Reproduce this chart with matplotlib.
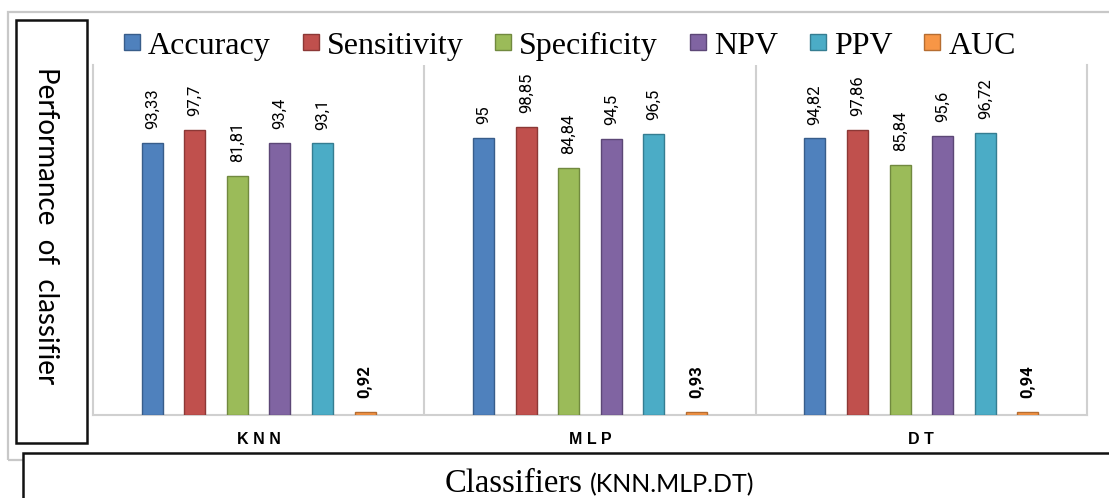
import matplotlib
matplotlib.use("Agg")
import matplotlib.pyplot as plt
from matplotlib.patches import Rectangle
import numpy as np

# classifier results (percent, AUC as a fraction)
classifiers = ["KNN", "MLP", "DT"]
metrics = ["Accuracy", "Sensitivity", "Specificity", "NPV", "PPV", "AUC"]
accuracy = [93.33, 95, 94.82]
sensitivity = [97.7, 98.85, 97.86]
specificity = [81.81, 84.84, 85.84]
npv = [93.4, 94.5, 95.6]
ppv = [93.1, 96.5, 96.72]
auc = [0.92, 0.93, 0.94]

series = [accuracy, sensitivity, specificity, npv, ppv, auc]
colors = ["#4F81BD", "#C0504D", "#9BBB59", "#8064A2", "#4BACC6", "#F79646"]
edges = ["#385D8A", "#8C3836", "#71893F", "#5C4776", "#357D91", "#B66D31"]

W, H = 1109, 498


def fx(px):
    return px / W


def fy(py):
    return 1 - py / H


fig = plt.figure(figsize=(W / 100, H / 100), dpi=100)
fig.patch.set_facecolor("white")

ax = fig.add_axes([fx(93), fy(415), fx(1087) - fx(93), fy(65) - fy(415)])

x = np.arange(len(classifiers))
slot = 0.1284
bar_w = 0.0635

for i, (name, vals) in enumerate(zip(metrics, series)):
    pos = x + (i - 2.5) * slot
    bars = ax.bar(pos, vals, width=bar_w, color=colors[i], edgecolor=edges[i],
                  linewidth=1.0, label=name, zorder=3)
    for rect, v in zip(bars, vals):
        txt = f"{v:g}".replace(".", ",")
        ax.annotate(txt, (rect.get_x() + rect.get_width() / 2, rect.get_height()),
                    xytext=(0, 10), textcoords="offset points",
                    ha="center", va="bottom", rotation=90,
                    fontsize=12, family="Roboto",
                    fontweight="bold" if name == "AUC" else "normal",
                    color="black")

ax.set_xlim(-0.5, 2.5)
ax.set_ylim(0, 120)
ax.set_yticks([])
ax.set_xticks(x)
ax.set_xticklabels([" ".join(c) for c in classifiers], fontsize=11.5,
                   fontweight="bold", family="Liberation Sans")
ax.tick_params(axis="x", length=0, pad=12)

grid_c = "#d0d0d0"
for s in ["left", "right", "bottom"]:
    ax.spines[s].set_color(grid_c)
    ax.spines[s].set_linewidth(1.5)
ax.spines["top"].set_visible(False)
for b in x[:-1] + 0.5:
    ax.axvline(b, color=grid_c, linewidth=1.5, zorder=1)

leg = ax.legend(loc="center", bbox_to_anchor=(fx(570), fy(46)),
                bbox_transform=fig.transFigure, ncol=6, frameon=False,
                prop={"family": "Liberation Serif", "size": 23},
                handlelength=0.5, handleheight=0.42, handletextpad=0.25,
                columnspacing=1.0)

# frames around the plot and the axis titles
fig.add_artist(Rectangle((fx(8), fy(460)), fx(1115) - fx(8), fy(12) - fy(460),
                         transform=fig.transFigure, fill=False,
                         edgecolor="#c8c8c8", linewidth=1.6, zorder=0))
fig.add_artist(Rectangle((fx(16), fy(443)), fx(87) - fx(16), fy(20) - fy(443),
                         transform=fig.transFigure, facecolor="white",
                         edgecolor="#111111", linewidth=1.8))
fig.add_artist(Rectangle((fx(23), fy(510)), fx(1120) - fx(23), fy(453) - fy(510),
                         transform=fig.transFigure, facecolor="white",
                         edgecolor="#111111", linewidth=1.8))

fig.text(fx(46), fy(226), "Performance  of  classifier", rotation=-90,
         ha="center", va="center", fontsize=20, family="Lato")

fig.text(fx(583), fy(492), "Classifiers", ha="right", va="baseline",
         fontsize=23.5, family="Liberation Serif")
fig.text(fx(590), fy(492), "(KNN.MLP.DT)", ha="left", va="baseline",
         fontsize=18, family="Lato")

fig.savefig("out.png", dpi=100)
